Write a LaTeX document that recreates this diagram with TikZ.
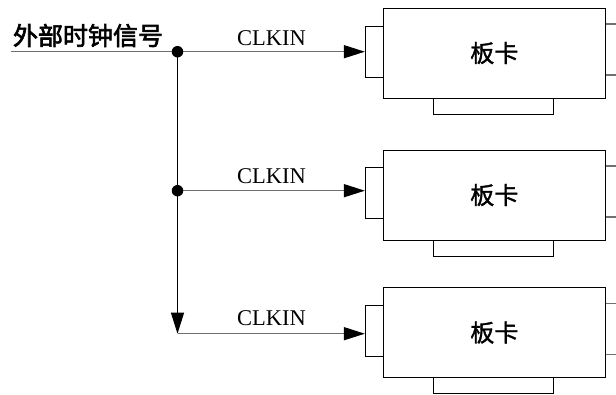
\documentclass[tikz,border=0pt]{standalone}
\usepackage{fontspec}
\setmainfont{Liberation Serif}
\newfontfamily\cjk[FakeBold=1.5]{Noto Sans CJK SC}
\newfontfamily\cjkb[FakeBold=2.5]{Noto Sans CJK SC}
\usetikzlibrary{arrows.meta}
\definecolor{wiregray}{HTML}{707070}
\tikzset{
  card/.style={draw, line width=0.9pt, minimum width=222pt, minimum height=90pt, inner sep=0pt, font=\cjk\fontsize{24}{24}\selectfont},
  port/.style={draw, line width=0.9pt, inner sep=0pt, fill=white},
  wire/.style={draw=wiregray, line width=1.5pt},
  vwire/.style={draw=black, line width=1pt},
  tip/.style={-{Triangle[length=21pt,width=13pt,color=black]}},
  dot/.style={circle, fill=black, inner sep=0pt, minimum size=11.5pt},
  lbl/.style={font=\fontsize{22.5}{22.5}\selectfont, inner sep=0pt},
}
\begin{document}
\begin{tikzpicture}[x=1pt,y=-1pt]
\useasboundingbox (0,0) rectangle (616,394);
% cards
\node[port, minimum width=18pt, minimum height=51pt] (p1) at (374.3,51.7) {};
\node[port, minimum width=18pt, minimum height=51pt] (p2) at (374.3,193) {};
\node[port, minimum width=18pt, minimum height=51pt] (p3) at (374.3,330.8) {};
\node[port, minimum width=120pt, minimum height=16pt] (q1) at (493.4,106) {};
\node[port, minimum width=120pt, minimum height=16pt] (q2) at (493.4,248) {};
\node[port, minimum width=120pt, minimum height=16pt] (q3) at (493.4,385.5) {};
\node[card, fill=white] (b1) at (494.3,53) {板卡};
\node[card, fill=white] (b2) at (494.3,195) {板卡};
\node[card, fill=white] (b3) at (494.3,332.5) {板卡};
% right stubs
\coordinate (r1a) at (616,24);  \coordinate (r1b) at (616,75);
\coordinate (r2a) at (616,166); \coordinate (r2b) at (616,217);
\coordinate (r3a) at (616,303.5); \coordinate (r3b) at (616,354.5);
\foreach \b/\r in {b1/r1a,b1/r1b,b2/r2a,b2/r2b,b3/r3a,b3/r3b}
  \draw[wire] (\b.east |- \r) -- (\r);
% signal
\node[font=\cjkb\fontsize{25}{25}\selectfont, inner sep=0pt] (sig) at (88,35.5) {外部时钟信号};
\coordinate (start) at (11,51.7);
\coordinate (j1) at (177.5,51.7);
\coordinate (j2) at (177.5,190.7);
\coordinate (j3) at (177.5,333.7);
\draw[wire, tip] (start) -- (start -| p1.west);
\draw[vwire, tip] (j1) -- (j3);
\draw[wire, tip] (j2) -- (j2 -| p2.west);
\draw[wire, tip] (j3) -- (j3 -| p3.west);
\node[dot] (d1) at (j1) {};
\node[dot] (d2) at (j2) {};
\node[lbl] (c1) at (271.5,38) {CLKIN};
\node[lbl] (c2) at (271.5,176) {CLKIN};
\node[lbl] (c3) at (271.5,318) {CLKIN};
\end{tikzpicture}
\end{document}
